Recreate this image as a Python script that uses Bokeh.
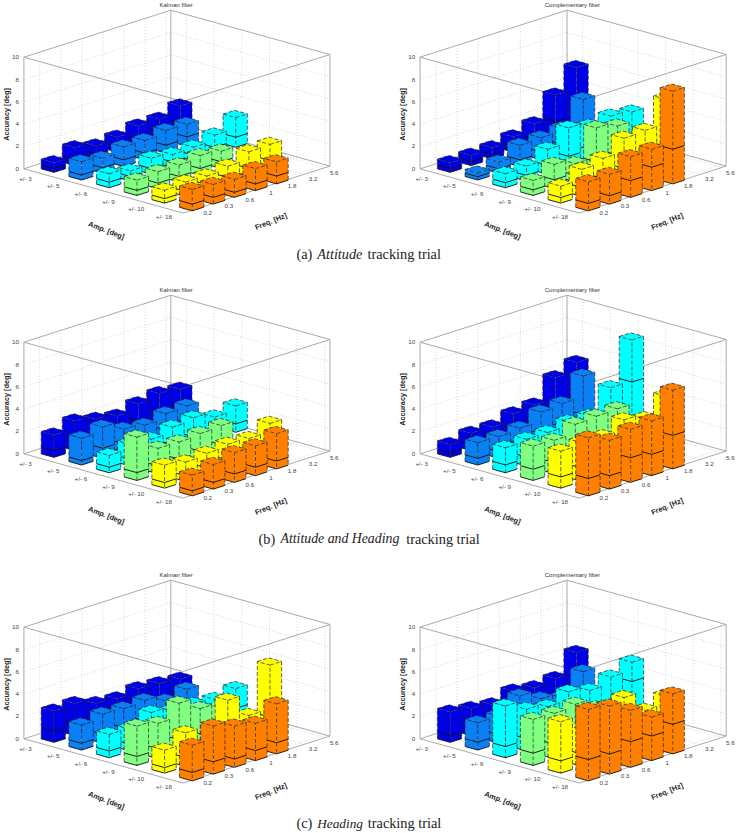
from bokeh.plotting import figure
from bokeh.models import Range1d
from bokeh.core.properties import value
from bokeh.embed import file_html
from bokeh.resources import INLINE

AMP_LABELS = ["+/- 3", "+/- 5", "+/- 6", "+/- 9", "+/- 10", "+/- 18"]
FREQ_LABELS = ["0.2", "0.3", "0.6", "1", "1.8", "3.2", "5.6"]
Z_TICKS = [0, 2, 4, 6, 8, 10]
ROW_COLORS = ["#0000e6", "#0a80f5", "#00ffff", "#80ff80", "#ffff00", "#ff8000"]

# total accuracy per amplitude row / frequency column
A_KALMAN_TOTAL = [
    [.87, 1.6, 1.16, 1.34, 1.73, 1.73, 2.33],
    [1.64, 1.34, 1.76, 1.73, 2.03, 1.97],
    [1.25, .9, 1.43, 1.16, 1.22, 1.7, 2.66],
    [1.37, 1.52, 1.52, 1.76, 1.55],
    [1.16, 1.28, 1.22, 1.49, 2.18, 2.24],
    [1.91, 1.76, 1.61, 1.97, 1.97]]
A_KALMAN_LOW = [
    [.35, .55, .45, .5, .6, .6, .8],
    [.45, .5, .6, .6, .7, .85],
    [.5, .4, .5, .5, .5, .6, .9],
    [.45, .5, .5, .6, .6],
    [.4, .45, .45, .5, .7, .8],
    [.6, .6, .45, .6, .7]]
A_COMPL_TOTAL = [
    [.87, .93, 1.0, 1.37, 1.94, 3.9, 5.76],
    [.63, 1.0, 1.9, 1.97, 2.2, 4.2],
    [1.25, 1.34, 2.24, 3.55, 3.1, 3.4, 3.16],
    [1.34, 2.18, 1.64, 4.24, 3.8],
    [1.52, 2.42, 2.8, 4.0, 4.1, 6.27],
    [2.6, 2.66, 3.64, 3.7, 8.3]]
A_COMPL_LOW = [
    [.35, .35, .4, .5, .6, 1.5, 2.0],
    [.3, .4, .6, .7, .8, 1.5],
    [.45, .5, .8, 1.0, 1.0, 1.2, 1.2],
    [.5, .8, .6, 1.2, 1.2],
    [.5, .8, 1.0, 1.3, 1.4, 2.0],
    [.66, .75, 1.5, 2.1, 3.1]]
B_KALMAN_TOTAL = [
    [2.0, 2.66, 2.2, 1.88, 2.39, 2.69, 2.48],
    [2.39, 2.8, 2.0, 1.76, 2.18, 2.27],
    [1.55, 1.94, 1.79, 2.27, 2.5, 1.97, 2.36],
    [3.88, 2.27, 2.24, 2.39, 2.5],
    [2.06, 1.73, 1.91, 2.12, 2.03, 2.78],
    [1.85, 2.2, 2.66, 2.66, 3.16]]
B_KALMAN_LOW = [
    [.6, .9, .7, .6, .8, .9, .8],
    [.4, .9, .7, .6, .7, .8],
    [.5, .6, .6, .7, .8, .6, .75],
    [.7, .7, .7, .8, .8],
    [.5, .5, .6, .7, .7, .8],
    [.45, .6, .75, .75, .7]]
B_COMPL_TOTAL = [
    [1.16, 1.55, 1.52, 2.09, 2.27, 4.12, 4.87],
    [2.0, 1.94, 2.09, 2.93, 3.1, 4.96],
    [2.24, 2.39, 2.39, 2.75, 2.66, 4.6, 8.27],
    [3.07, 2.99, 3.82, 3.94, 4.0],
    [3.31, 3.46, 3.4, 4.3, 3.8, 5.2],
    [5.19, 4.36, 4.75, 4.9, 7.04]]
B_COMPL_LOW = [
    [.4, .5, .5, .7, .8, 1.3, 1.5],
    [.6, .6, .7, 1.0, 1.0, 1.5],
    [.7, .8, .8, .9, .9, 1.5, 4.5],
    [1.0, 1.0, 1.2, 1.3, 1.3],
    [1.0, 1.2, 1.1, 1.4, 1.3, 1.7],
    [1.55, 1.2, 2.2, 1.9, 3.0]]
C_KALMAN_TOTAL = [
    [2.8, 2.87, 2.27, 2.09, 2.39, 2.24, 2.03],
    [2.24, 2.6, 2.5, 2.63, 1.97, 2.42],
    [2.09, 1.94, 2.84, 2.36, 2.36, 2.2, 2.57],
    [3.52, 3.16, 4.36, 3.28, 2.75],
    [2.06, 3.0, 1.3, 4.72, 2.75, 6.66],
    [3.19, 4.3, 3.7, 3.34, 4.48]]
C_KALMAN_LOW = [
    [1.0, .9, .7, .7, .8, .7, .7],
    [.6, .8, .8, .8, .7, .8],
    [.6, .6, .9, .8, .8, .7, .8],
    [.8, .9, 1.1, 1.0, .9],
    [.5, .8, .5, 1.2, .9, 2.0],
    [.75, 1.1, .75, .9, 1.0]]
C_COMPL_TOTAL = [
    [2.72, 2.42, 2.15, 2.78, 2.48, 2.69, 4.42],
    [2.45, 2.45, 3.64, 2.78, 2.27, 4.0],
    [4.63, 3.73, 3.37, 4.09, 3.61, 4.21, 4.93],
    [4.12, 4.06, 4.27, 3.34, 3.0],
    [4.6, 3.3, 3.4, 4.96, 3.2, 3.88],
    [6.39, 6.09, 5.1, 3.9, 5.37]]
C_COMPL_LOW = [
    [.6, .7, .7, .8, .8, .9, 1.3],
    [.7, .8, 1.1, .9, .7, 1.2],
    [1.0, 1.1, 1.0, 1.3, 1.2, 1.4, 3.2],
    [1.1, 1.3, 1.3, 1.1, 1.0],
    [1.1, 1.1, 1.1, 1.5, 1.0, 1.2],
    [1.9, 1.8, 2.3, 2.2, 2.65]]

PANELS = [
    ("Kalman filter", 23.4, 168.3, A_KALMAN_TOTAL, A_KALMAN_LOW),
    ("Complementary filter", 419.6, 168.3, A_COMPL_TOTAL, A_COMPL_LOW),
    ("Kalman filter", 23.4, 453.3, B_KALMAN_TOTAL, B_KALMAN_LOW),
    ("Complementary filter", 419.6, 453.3, B_COMPL_TOTAL, B_COMPL_LOW),
    ("Kalman filter", 23.4, 738.3, C_KALMAN_TOTAL, C_KALMAN_LOW),
    ("Complementary filter", 419.6, 738.3, C_COMPL_TOTAL, C_COMPL_LOW),
]
CAPTIONS = [
    [("(a)", 296, 253, "normal", 14.3), ("Attitude", 316.7, 253, "italic", 14.3), ("tracking trial", 367, 253, "normal", 14.3)],
    [("(b)", 258, 538, "normal", 14.3), ("Attitude and Heading", 280, 538, "italic", 13.8), ("tracking trial", 405.7, 538, "normal", 14.3)],
    [("(c)", 296, 822.5, "normal", 14.3), ("Heading", 316.7, 822.5, "italic", 13.3), ("tracking trial", 367.3, 822.5, "normal", 14.3)],
]

# orthographic projection of the 3-D axes (axis index units -> page pixels)
UX, UY = 27.67, 7.7
VX, VY = 21.08, -6.74
ZY = -11.16
UMAX, VMAX = 5.75, 6.97
U_FIRST, V_FIRST = 0.564, 0.657
V_TICK = 0.75
WU, WV = 0.46, 0.55

p = figure(width=737, height=833, x_range=Range1d(0, 737), y_range=Range1d(833, 0),
           output_backend="svg", toolbar_location=None, min_border=0,
           outline_line_color=None, background_fill_color="white")
p.axis.visible = False
p.grid.visible = False

SANS = value("Liberation Sans")


def panel(title, ox, oy, total, low):
    def P(u, v, z=0.0):
        return ox + u * UX + v * VX, oy + u * UY + v * VY + z * ZY

    def seg(a, b):
        return [a[0], b[0]], [a[1], b[1]]

    # grid
    gx, gy = [], []
    for z in Z_TICKS[1:-1]:
        for a, b in ((P(0, 0, z), P(0, VMAX, z)), (P(0, VMAX, z), P(UMAX, VMAX, z))):
            s = seg(a, b); gx.append(s[0]); gy.append(s[1])
    for i in range(len(AMP_LABELS)):
        u = U_FIRST + i
        for a, b in ((P(u, 0), P(u, VMAX)), (P(u, VMAX), P(u, VMAX, 10))):
            s = seg(a, b); gx.append(s[0]); gy.append(s[1])
    for j in range(len(FREQ_LABELS)):
        v = V_TICK + j
        for a, b in ((P(0, v), P(UMAX, v)), (P(0, v), P(0, v, 10))):
            s = seg(a, b); gx.append(s[0]); gy.append(s[1])
    p.multi_line(gx, gy, line_color="#c4c4c4", line_width=0.7, line_dash="1 2")

    # box
    corners = [(0, 0), (0, VMAX), (UMAX, VMAX), (UMAX, 0)]
    bx, by = [], []
    for k in range(4):
        a, b = corners[k], corners[(k + 1) % 4]
        for z in (0, 10):
            s = seg(P(a[0], a[1], z), P(b[0], b[1], z)); bx.append(s[0]); by.append(s[1])
    for c in corners[:3]:
        s = seg(P(c[0], c[1], 0), P(c[0], c[1], 10)); bx.append(s[0]); by.append(s[1])
    p.multi_line(bx, by, line_color="#a0a0a0", line_width=0.9)

    # bars, far to near
    for depth in range(-6, 6):
        fx, fy, fc = [], [], []
        dx, dy, sx, sy = [], [], [], []
        for i, (rt, rl) in enumerate(zip(total, low)):
            j = i - depth
            if j < 0 or j >= len(rt):
                continue
            u0 = U_FIRST + i - WU / 2
            u1 = u0 + WU
            v0 = V_FIRST + j - WV / 2
            v1 = v0 + WV
            t, m = rt[j], rl[j]

            def poly(*pts):
                return [q[0] for q in pts], [q[1] for q in pts]
            L0, F0, R0 = P(u0, v0), P(u1, v0), P(u1, v1)
            Lm, Fm, Rm = P(u0, v0, m), P(u1, v0, m), P(u1, v1, m)
            Lt, Ft, Rt, Bt = P(u0, v0, t), P(u1, v0, t), P(u1, v1, t), P(u0, v1, t)
            for pts in ((L0, F0, Ft, Lt), (F0, R0, Rt, Ft), (Lt, Ft, Rt, Bt)):
                x_, y_ = poly(*pts)
                fx.append(x_); fy.append(y_); fc.append(ROW_COLORS[i])
            for pts in ((L0, Lt, Ft, F0), (Ft, Rt, R0), (Lt, Bt, Rt)):
                x_, y_ = poly(*pts)
                dx.append(x_); dy.append(y_)
            for pts in ((Lm, Fm, Rm), (L0, F0, R0)):
                x_, y_ = poly(*pts)
                sx.append(x_); sy.append(y_)
        if not fx:
            continue
        p.patches(fx, fy, fill_color=fc, line_color=None)
        p.multi_line(dx, dy, line_color="#222222", line_width=0.7, line_dash="4 2")
        p.multi_line(sx, sy, line_color="#101010", line_width=0.9)

    # tick labels
    tx, ty = [], []
    for i in range(len(AMP_LABELS)):
        a = P(U_FIRST + i, 0)
        tx.append(a[0] - 14); ty.append(a[1] + 5)
    p.text(tx, ty, text=AMP_LABELS, text_font=SANS, text_font_size="6.2px", text_color="#444444",
           text_align="center", text_baseline="middle")
    tx, ty = [], []
    for j in range(len(FREQ_LABELS)):
        a = P(UMAX, V_TICK + j)
        tx.append(a[0] + 8.9); ty.append(a[1] + 5)
    p.text(tx, ty, text=FREQ_LABELS, text_font=SANS, text_font_size="6.2px", text_color="#444444",
           text_align="center", text_baseline="middle")
    tx, ty = [], []
    for z in Z_TICKS:
        a = P(0, 0, z)
        tx.append(a[0] - 5); ty.append(a[1])
    p.text(tx, ty, text=[str(z) for z in Z_TICKS], text_font=SANS, text_font_size="6.2px",
           text_color="#444444", text_align="right", text_baseline="middle")

    # titles
    p.text([ox + 152.3], [oy - 164.3], text=[title], text_font=SANS, text_font_size="6px", text_color="#333333",
           text_align="center", text_baseline="middle")
    p.text([ox - 17.8], [oy - 54.3], text=["Accuracy [deg]"], angle=90, angle_units="deg", text_font=SANS,
           text_font_size="7.3px", text_font_style="bold", text_color="#222222",
           text_align="center", text_baseline="middle")
    p.text([ox + 82.5], [oy + 61.5], text=["Amp. [deg]"], angle=-21, angle_units="deg", text_font=SANS,
           text_font_size="7.3px", text_font_style="bold", text_color="#222222",
           text_align="center", text_baseline="middle")
    p.text([ox + 247], [oy + 52.5], text=["Freq. [Hz]"], angle=22, angle_units="deg", text_font=SANS,
           text_font_size="7.3px", text_font_style="bold", text_color="#222222",
           text_align="center", text_baseline="middle")


for title, ox, oy, total, low in PANELS:
    panel(title, ox, oy, total, low)

for cap in CAPTIONS:
    for txt, x, y, style, size in cap:
        p.text([x], [y], text=[txt], text_font=value("Liberation Serif"), text_font_size=f"{size}px",
               text_font_style=style, text_color="#222222", text_align="left", text_baseline="alphabetic")

open("out.html", "w").write(file_html(p, INLINE))
